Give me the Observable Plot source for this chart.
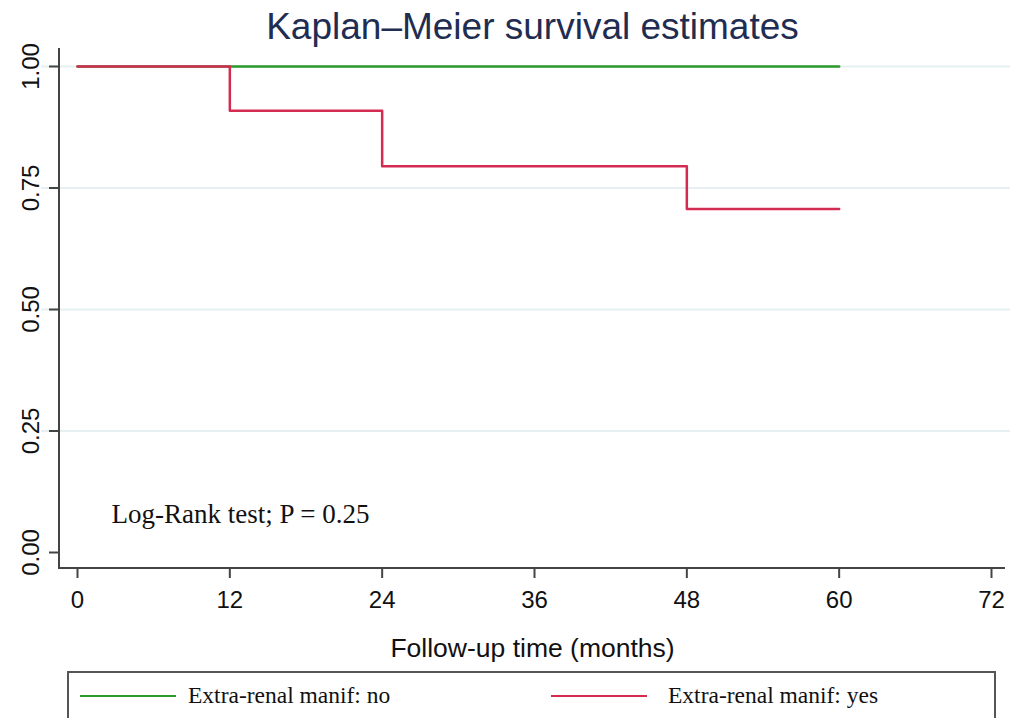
<!DOCTYPE html>
<html>
<head>
<meta charset="utf-8">
<script src="https://cdn.jsdelivr.net/npm/d3@7"></script>
<script src="https://cdn.jsdelivr.net/npm/@observablehq/plot@0.6"></script>
<style>
  body { margin: 0; background: #fff; }
  #wrap { position: relative; width: 1010px; height: 718px; overflow: hidden; }
  #legend {
    position: absolute; left: 67px; top: 671px; width: 929px; height: 60px;
    border: 2px solid #555; box-sizing: border-box;
    font-family: "Liberation Serif", "Times New Roman", serif; font-size: 23.5px; color: #111;
  }
  .item { position: absolute; top: 9px; display: flex; align-items: center; }
  .swatch { width: 96px; height: 0; border-top: 2.5px solid; }
</style>
</head>
<body>
<div id="wrap"></div>
<script>
// Kaplan–Meier step estimates by group
const groupNames = ["Extra-renal manif: no", "Extra-renal manif: yes"];
const groupColors = ["#2b9a2b", "#d42b52"];
const timeNo = [0, 60];
const survNo = [1.0, 1.0];
const timeYes = [0, 12, 24, 48, 60];
const survYes = [1.0, 0.909, 0.795, 0.707, 0.707];
const xTicks = [0, 12, 24, 36, 48, 60, 72];
const yTicks = [0, 0.25, 0.5, 0.75, 1.0];
const gridTicks = [0.25, 0.5, 0.75, 1.0];
const annotation = "Log-Rank test; P = 0.25";

const rows = [
  ...timeNo.map((t, i) => ({time: t, surv: survNo[i], group: groupNames[0]})),
  ...timeYes.map((t, i) => ({time: t, surv: survYes[i], group: groupNames[1]}))
];

const W = 1010, H = 672;
const mL = 59, mR = 5, mT = 48, mB = 104;

const chart = Plot.plot({
  width: W, height: H,
  marginLeft: mL, marginRight: mR, marginTop: mT, marginBottom: mB,
  insetLeft: 18, insetRight: 14, insetTop: 18, insetBottom: 16,
  style: {fontFamily: "'Liberation Sans', Arial, sans-serif", background: "#fff"},
  x: {domain: [0, 72], ticks: xTicks, label: null},
  y: {domain: [0, 1], ticks: yTicks, label: null},
  color: {domain: groupNames, range: groupColors},
  marks: [
    Plot.ruleY(gridTicks, {stroke: "#e6eff1", strokeWidth: 2, insetLeft: -18, insetRight: -14}),
    Plot.axisX({ticks: xTicks, tickSize: 10, tickPadding: 12, fontSize: 24, stroke: "#444", strokeWidth: 2, color: "#111"}),
    Plot.axisY({ticks: yTicks, tickSize: 10, tickFormat: () => "", stroke: "#444", strokeWidth: 2}),
    Plot.text(yTicks, {y: d => d, frameAnchor: "left", dx: -28, rotate: -90, text: d => d.toFixed(2),
      fontSize: 24, fill: "#111", textAnchor: "middle", lineAnchor: "middle"}),
    Plot.text(["Follow-up time (months)"], {frameAnchor: "bottom", dy: 88, fontSize: 26.5, fill: "#111"}),
    Plot.text(["Kaplan–Meier survival estimates"], {frameAnchor: "top", dy: -36, fontSize: 37, fill: "#1f2d52"}),
    Plot.text([annotation], {x: 0, y: 0, dx: 34, dy: -38, textAnchor: "start",
      fontFamily: "'Liberation Serif', 'Times New Roman', serif", fontSize: 27, fill: "#111"}),
    Plot.line(rows, {x: "time", y: "surv", z: "group", stroke: "group", curve: "step-after", strokeWidth: 2.5})
  ]
});

// axis lines along the left and bottom edges of the frame
const svg = d3.select(chart);
svg.append("line").attr("x1", mL).attr("x2", mL).attr("y1", mT).attr("y2", H - mB)
  .attr("stroke", "#444").attr("stroke-width", 2);
svg.append("line").attr("x1", mL - 1).attr("x2", W - mR).attr("y1", H - mB).attr("y2", H - mB)
  .attr("stroke", "#444").attr("stroke-width", 2);

const wrap = document.getElementById("wrap");
wrap.appendChild(chart);

// legend box below the chart
const legend = document.createElement("div");
legend.id = "legend";
const offsets = [11, 482];
const gaps = [12, 21];
groupNames.forEach((name, i) => {
  const item = document.createElement("div");
  item.className = "item";
  item.style.left = offsets[i] + "px";
  const sw = document.createElement("span");
  sw.className = "swatch";
  sw.style.borderTopColor = groupColors[i];
  sw.style.marginRight = gaps[i] + "px";
  item.appendChild(sw);
  const lab = document.createElement("span");
  lab.textContent = name;
  item.appendChild(lab);
  legend.appendChild(item);
});
wrap.appendChild(legend);
</script>
</body>
</html>
